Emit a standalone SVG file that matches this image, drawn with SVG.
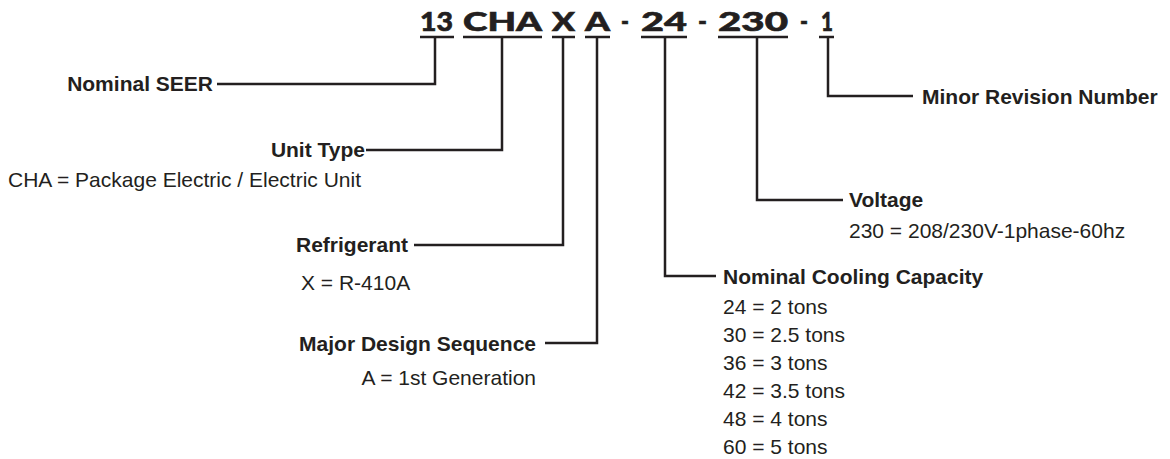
<svg xmlns="http://www.w3.org/2000/svg" width="1170" height="459" viewBox="0 0 1170 459">
<style>
.t{font-family:Lato,"DejaVu Sans",sans-serif;font-weight:900;font-size:26px;fill:#231f20;stroke:#231f20;stroke-width:0.6}
.b{font-family:"Liberation Sans",Arial,sans-serif;font-weight:bold;font-size:21px;fill:#231f20}
.r{font-family:"Liberation Sans",Arial,sans-serif;font-size:21px;fill:#231f20}
.ln{fill:none;stroke:#231f20;stroke-width:2.5}
.ul{stroke:#231f20;stroke-width:2.5}
</style>
<rect width="1170" height="459" fill="#ffffff"/>
<g id="title">
<text class="t" x="420" y="31" textLength="33" lengthAdjust="spacingAndGlyphs">13</text>
<text class="t" x="463" y="31" textLength="79" lengthAdjust="spacingAndGlyphs">CHA</text>
<text class="t" x="552" y="31" textLength="23" lengthAdjust="spacingAndGlyphs">X</text>
<text class="t" x="585" y="31" textLength="25" lengthAdjust="spacingAndGlyphs">A</text>
<text class="t" x="621" y="31" textLength="8" lengthAdjust="spacingAndGlyphs">-</text>
<text class="t" x="641" y="31" textLength="46" lengthAdjust="spacingAndGlyphs">24</text>
<text class="t" x="698" y="31" textLength="9" lengthAdjust="spacingAndGlyphs">-</text>
<text class="t" x="718" y="31" textLength="70" lengthAdjust="spacingAndGlyphs">230</text>
<text class="t" x="800" y="31" textLength="8" lengthAdjust="spacingAndGlyphs">-</text>
<text class="t" x="821" y="31" textLength="12" lengthAdjust="spacingAndGlyphs">1</text>
<line class="ul" x1="420" y1="37" x2="454" y2="37"/>
<line class="ul" x1="463" y1="37" x2="542" y2="37"/>
<line class="ul" x1="552" y1="37" x2="575" y2="37"/>
<line class="ul" x1="585" y1="37" x2="610" y2="37"/>
<line class="ul" x1="641" y1="37" x2="687" y2="37"/>
<line class="ul" x1="718" y1="37" x2="788" y2="37"/>
<line class="ul" x1="819" y1="37" x2="834" y2="37"/>
</g>
<g id="connectors">
<polyline class="ln" points="435,37 435,84 217,84"/>
<polyline class="ln" points="502,37 502,150 366,150"/>
<polyline class="ln" points="563,37 563,245 414,245"/>
<polyline class="ln" points="597,37 597,343 545,343"/>
<polyline class="ln" points="665,37 665,276 716,276"/>
<polyline class="ln" points="757,37 757,200 843,200"/>
<polyline class="ln" points="828,37 828,96 913,96"/>
</g>
<g id="nominal-seer">
<text class="b" x="213" y="91" text-anchor="end">Nominal SEER</text>
</g>
<g id="unit-type">
<text class="b" x="365" y="157" text-anchor="end">Unit Type</text>
<text class="r" x="8" y="187">CHA = Package Electric / Electric Unit</text>
</g>
<g id="refrigerant">
<text class="b" x="408" y="252" text-anchor="end">Refrigerant</text>
<text class="r" x="301" y="290">X = R-410A</text>
</g>
<g id="major-design">
<text class="b" x="536" y="351" text-anchor="end">Major Design Sequence</text>
<text class="r" x="536" y="385" text-anchor="end">A = 1st Generation</text>
</g>
<g id="cooling-capacity">
<text class="b" x="723" y="284">Nominal Cooling Capacity</text>
<text class="r" x="723" y="314">24 = 2 tons</text>
<text class="r" x="723" y="342">30 = 2.5 tons</text>
<text class="r" x="723" y="370">36 = 3 tons</text>
<text class="r" x="723" y="398">42 = 3.5 tons</text>
<text class="r" x="723" y="426">48 = 4 tons</text>
<text class="r" x="723" y="454">60 = 5 tons</text>
</g>
<g id="voltage">
<text class="b" x="849" y="207">Voltage</text>
<text class="r" x="849" y="238">230 = 208/230V-1phase-60hz</text>
</g>
<g id="minor-revision">
<text class="b" x="922" y="104">Minor Revision Number</text>
</g>
</svg>
